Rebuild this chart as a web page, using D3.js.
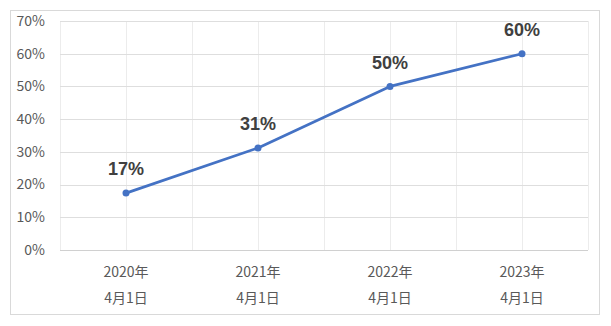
<!DOCTYPE html>
<html>
<head>
<meta charset="utf-8">
<script src="https://cdn.jsdelivr.net/npm/d3@7"></script>
<style>
  body { margin: 0; background: #fff; }
  .tick-label { font-family: "Noto Sans CJK JP", "Noto Sans", sans-serif; font-size: 14px; fill: #595959; }
  .data-label { font-family: "Liberation Sans", Arial, sans-serif; font-size: 18px; font-weight: bold; fill: #404040; }
</style>
</head>
<body>
<div id="chart"></div>
<script>
// Data
var years = ["2020年", "2021年", "2022年", "2023年"];
var days = ["4月1日", "4月1日", "4月1日", "4月1日"];
var values = [0.174, 0.312, 0.50, 0.60];
var yTicks = [0, 0.1, 0.2, 0.3, 0.4, 0.5, 0.6, 0.7];

var svgWidth = 611;
var svgHeight = 326;

var plot = { left: 60, right: 588, top: 21, bottom: 250 };

var svg = d3.select("#chart")
    .append("svg")
    .attr("width", svgWidth)
    .attr("height", svgHeight);

// Outer chart border
svg.append("rect")
    .attr("x", 10.5)
    .attr("y", 10.5)
    .attr("width", 589)
    .attr("height", 304)
    .attr("fill", "#fff")
    .attr("stroke", "#d9d9d9");

// Scales
var xScale = d3.scalePoint()
    .domain(d3.range(years.length))
    .range([plot.left, plot.right])
    .padding(0.5);

var yScale = d3.scaleLinear()
    .domain([0, 0.7])
    .range([plot.bottom, plot.top]);

var step = xScale.step();

// Vertical gridlines at every half step
var vLines = d3.range(0, years.length * 2 + 1).map(i => plot.left + i * step / 2);
svg.append("g").selectAll("line")
    .data(vLines)
    .enter()
    .append("line")
    .attr("x1", d => Math.round(d) + 0.5)
    .attr("x2", d => Math.round(d) + 0.5)
    .attr("y1", plot.top)
    .attr("y2", plot.bottom)
    .attr("stroke", "#ececec");

// Horizontal gridlines
svg.append("g").selectAll("line")
    .data(yTicks)
    .enter()
    .append("line")
    .attr("x1", plot.left)
    .attr("x2", plot.right)
    .attr("y1", d => Math.round(yScale(d)) + 0.5)
    .attr("y2", d => Math.round(yScale(d)) + 0.5)
    .attr("stroke", d => d === 0 ? "#d0d0d0" : "#dedede");

// Y axis labels
svg.append("g").selectAll("text")
    .data(yTicks)
    .enter()
    .append("text")
    .classed("tick-label", true)
    .attr("x", 45)
    .attr("y", d => yScale(d))
    .attr("dy", "0.35em")
    .attr("text-anchor", "end")
    .text(d => d3.format(".0%")(d));

// X axis labels (two lines)
var xLabels = svg.append("g");
xLabels.selectAll("text.year")
    .data(years)
    .enter()
    .append("text")
    .classed("tick-label year", true)
    .attr("x", (d, i) => xScale(i))
    .attr("y", 272)
    .attr("dy", "0.35em")
    .attr("text-anchor", "middle")
    .text(d => d);

xLabels.selectAll("text.day")
    .data(days)
    .enter()
    .append("text")
    .classed("tick-label day", true)
    .attr("x", (d, i) => xScale(i))
    .attr("y", 298)
    .attr("dy", "0.35em")
    .attr("text-anchor", "middle")
    .text(d => d);

// Line
var line = d3.line()
    .x((d, i) => xScale(i))
    .y(d => yScale(d));

svg.append("path")
    .datum(values)
    .attr("d", line)
    .attr("fill", "none")
    .attr("stroke", "#4472c4")
    .attr("stroke-width", 2.75)
    .attr("stroke-linejoin", "round");

// Markers
svg.append("g").selectAll("circle")
    .data(values)
    .enter()
    .append("circle")
    .attr("cx", (d, i) => xScale(i))
    .attr("cy", d => yScale(d))
    .attr("r", 3.5)
    .attr("fill", "#4472c4");

// Data labels
svg.append("g").selectAll("text")
    .data(values)
    .enter()
    .append("text")
    .classed("data-label", true)
    .attr("x", (d, i) => xScale(i))
    .attr("y", d => yScale(d) - 24)
    .attr("dy", "0.35em")
    .attr("text-anchor", "middle")
    .text(d => Math.round(d * 100) + "%");
</script>
</body>
</html>
